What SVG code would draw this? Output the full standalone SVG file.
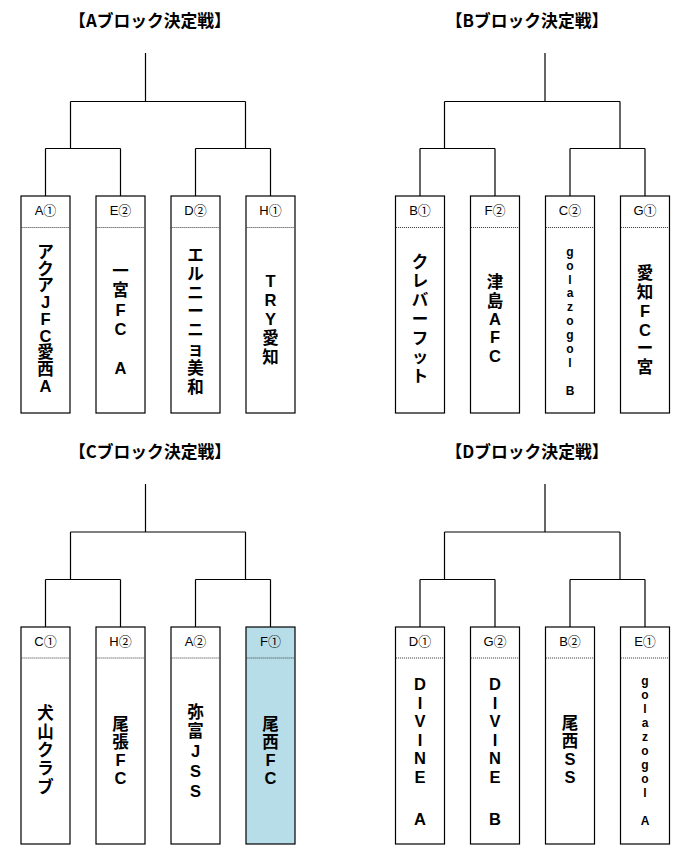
<svg xmlns="http://www.w3.org/2000/svg" width="679" height="853" viewBox="0 0 679 853">
<style>
.bg{fill:#fff}
.box{fill:#fff;stroke:#000;stroke-width:1.2}
.win{fill:#B7DEE8}
.dot{stroke:#333;stroke-width:1;stroke-dasharray:1 1;fill:none}
.ln{stroke:#000;stroke-width:1.2;fill:none}
.title{font-family:"Noto Sans CJK JP",sans-serif;font-weight:bold;font-size:16.8px;text-anchor:middle;fill:#000}
.hdr{font-family:"Liberation Sans","Noto Sans CJK JP",sans-serif;font-size:13px;text-anchor:middle;fill:#000}
.nm{font-family:"Liberation Sans","Noto Sans CJK JP",sans-serif;font-weight:bold;font-size:16.5px;text-anchor:middle;fill:#000}
.sm{font-family:"Liberation Sans","Noto Sans CJK JP",sans-serif;font-weight:bold;font-size:12px;text-anchor:middle;fill:#000}
</style>
<rect class="bg" x="0" y="0" width="679" height="853"/>

<g id="titles">
<text class="title" x="150" y="26.5">【Aブロック決定戦】</text>
<text class="title" x="527" y="26.5">【Bブロック決定戦】</text>
<text class="title" x="150" y="457.5">【Cブロック決定戦】</text>
<text class="title" x="527" y="457.5">【Dブロック決定戦】</text>
</g>

<g id="connectors">
<path class="ln" d="M145.5,53V101.5M70.5,101.5H245.5M70.5,101.5V148.5M245.5,101.5V148.5M45.5,148.5H120.5M195.5,148.5H270.5M45.5,148.5V196M120.5,148.5V196M195.5,148.5V196M270.5,148.5V196"/>
<path class="ln" d="M545,53V101.5M444.5,101.5H620M444.5,101.5V148.5M620,101.5V148.5M420,148.5H495M570,148.5H645M420,148.5V196M495,148.5V196M570,148.5V196M645,148.5V196"/>
<path class="ln" d="M145.5,484V532M70.5,532H245.5M70.5,532V579.5M245.5,532V579.5M45.5,579.5H120.5M195.5,579.5H270.5M45.5,579.5V627M120.5,579.5V627M195.5,579.5V627M270.5,579.5V627"/>
<path class="ln" d="M545,484V532M444.5,532H620M444.5,532V579.5M620,532V579.5M420,579.5H495M570,579.5H645M420,579.5V627M495,579.5V627M570,579.5V627M645,579.5V627"/>
</g>

<g id="A1">
<rect class="box" x="21" y="196" width="49" height="217"/>
<line class="dot" x1="21.6" y1="227.5" x2="69.4" y2="227.5"/>
<text class="hdr" x="45.5" y="215">A①</text>
<text class="nm"><tspan x="45.5" y="257.8">ア</tspan><tspan x="45.5" y="274.6">ク</tspan><tspan x="45.5" y="291.3">ア</tspan><tspan x="45.5" y="308.1">J</tspan><tspan x="45.5" y="324.8">F</tspan><tspan x="45.5" y="341.6">C</tspan><tspan x="45.5" y="358.3">愛</tspan><tspan x="45.5" y="375.1">西</tspan><tspan x="45.5" y="391.8">A</tspan></text>
</g>
<g id="E2">
<rect class="box" x="96" y="196" width="49" height="217"/>
<line class="dot" x1="96.6" y1="227.5" x2="144.4" y2="227.5"/>
<text class="hdr" x="120.5" y="215">E②</text>
<text class="nm"><tspan x="120.5" y="276.8">一</tspan><tspan x="120.5" y="296.3">宮</tspan><tspan x="120.5" y="315.8">F</tspan><tspan x="120.5" y="335.3">C</tspan><tspan x="120.5" y="374.3">A</tspan></text>
</g>
<g id="D2">
<rect class="box" x="171" y="196" width="49" height="217"/>
<line class="dot" x1="171.6" y1="227.5" x2="219.4" y2="227.5"/>
<text class="hdr" x="195.5" y="215">D②</text>
<text class="nm"><tspan x="195.5" y="260.8">エ</tspan><tspan x="195.5" y="279.7">ル</tspan><tspan x="195.5" y="298.5">ニ</tspan><tspan x="195.5" y="317.4">ー</tspan><tspan x="195.5" y="336.2">ニ</tspan><tspan x="195.5" y="355.1">ョ</tspan><tspan x="195.5" y="374">美</tspan><tspan x="195.5" y="392.8">和</tspan></text>
</g>
<g id="H1">
<rect class="box" x="246" y="196" width="49" height="217"/>
<line class="dot" x1="246.6" y1="227.5" x2="294.4" y2="227.5"/>
<text class="hdr" x="270.5" y="215">H①</text>
<text class="nm"><tspan x="270.5" y="286.8">T</tspan><tspan x="270.5" y="305.8">R</tspan><tspan x="270.5" y="324.8">Y</tspan><tspan x="270.5" y="343.8">愛</tspan><tspan x="270.5" y="362.8">知</tspan></text>
</g>

<g id="B1">
<rect class="box" x="395.5" y="196" width="49" height="217"/>
<line class="dot" x1="396.1" y1="227.5" x2="443.9" y2="227.5"/>
<text class="hdr" x="420" y="215">B①</text>
<text class="nm"><tspan x="420" y="268.1">ク</tspan><tspan x="420" y="287">レ</tspan><tspan x="420" y="305.9">バ</tspan><tspan x="420" y="324.8">ー</tspan><tspan x="420" y="343.7">フ</tspan><tspan x="420" y="362.6">ッ</tspan><tspan x="420" y="381.5">ト</tspan></text>
</g>
<g id="F2">
<rect class="box" x="470.5" y="196" width="49" height="217"/>
<line class="dot" x1="471.1" y1="227.5" x2="518.9" y2="227.5"/>
<text class="hdr" x="495" y="215">F②</text>
<text class="nm"><tspan x="495" y="288.1">津</tspan><tspan x="495" y="306.5">島</tspan><tspan x="495" y="324.8">A</tspan><tspan x="495" y="343.2">F</tspan><tspan x="495" y="361.5">C</tspan></text>
</g>
<g id="C2">
<rect class="box" x="545.5" y="196" width="49" height="217"/>
<line class="dot" x1="546.1" y1="227.5" x2="593.9" y2="227.5"/>
<text class="hdr" x="570" y="215">C②</text>
<text class="sm"><tspan x="570" y="255.7">g</tspan><tspan x="570" y="269.6">o</tspan><tspan x="570" y="283.5">l</tspan><tspan x="570" y="297.4">a</tspan><tspan x="570" y="311.3">z</tspan><tspan x="570" y="325.2">o</tspan><tspan x="570" y="339.1">g</tspan><tspan x="570" y="353">o</tspan><tspan x="570" y="366.9">l</tspan><tspan x="570" y="394.7">B</tspan></text>
</g>
<g id="G1">
<rect class="box" x="620.5" y="196" width="49" height="217"/>
<line class="dot" x1="621.1" y1="227.5" x2="668.9" y2="227.5"/>
<text class="hdr" x="645" y="215">G①</text>
<text class="nm"><tspan x="645" y="279.1">愛</tspan><tspan x="645" y="297.9">知</tspan><tspan x="645" y="316.7">F</tspan><tspan x="645" y="335.5">C</tspan><tspan x="645" y="354.3">ー</tspan><tspan x="645" y="373.1">宮</tspan></text>
</g>

<g id="C1">
<rect class="box" x="21" y="627" width="49" height="217"/>
<line class="dot" x1="21.6" y1="658" x2="69.4" y2="658"/>
<text class="hdr" x="45.5" y="646">C①</text>
<text class="nm"><tspan x="45.5" y="719.1">犬</tspan><tspan x="45.5" y="737.5">山</tspan><tspan x="45.5" y="755.8">ク</tspan><tspan x="45.5" y="774.2">ラ</tspan><tspan x="45.5" y="792.5">ブ</tspan></text>
</g>
<g id="H2">
<rect class="box" x="96" y="627" width="49" height="217"/>
<line class="dot" x1="96.6" y1="658" x2="144.4" y2="658"/>
<text class="hdr" x="120.5" y="646">H②</text>
<text class="nm"><tspan x="120.5" y="729.8">尾</tspan><tspan x="120.5" y="747.9">張</tspan><tspan x="120.5" y="766">F</tspan><tspan x="120.5" y="784.1">C</tspan></text>
</g>
<g id="A2">
<rect class="box" x="171" y="627" width="49" height="217"/>
<line class="dot" x1="171.6" y1="658" x2="219.4" y2="658"/>
<text class="hdr" x="195.5" y="646">A②</text>
<text class="nm"><tspan x="195.5" y="717.5">弥</tspan><tspan x="195.5" y="737.3">富</tspan><tspan x="195.5" y="757">J</tspan><tspan x="195.5" y="776.8">S</tspan><tspan x="195.5" y="796.5">S</tspan></text>
</g>
<g id="F1">
<rect class="box win" x="246" y="627" width="49" height="217"/>
<line class="dot" x1="246.6" y1="658" x2="294.4" y2="658"/>
<text class="hdr" x="270.5" y="646">F①</text>
<text class="nm"><tspan x="270.5" y="729.8">尾</tspan><tspan x="270.5" y="747.9">西</tspan><tspan x="270.5" y="766">F</tspan><tspan x="270.5" y="784.1">C</tspan></text>
</g>

<g id="D1">
<rect class="box" x="395.5" y="627" width="49" height="217"/>
<line class="dot" x1="396.1" y1="658" x2="443.9" y2="658"/>
<text class="hdr" x="420" y="646">D①</text>
<text class="nm"><tspan x="420" y="689.8">D</tspan><tspan x="420" y="708.5">I</tspan><tspan x="420" y="727.1">V</tspan><tspan x="420" y="745.8">I</tspan><tspan x="420" y="764.4">N</tspan><tspan x="420" y="783.1">E</tspan><tspan x="420" y="824.8">A</tspan></text>
</g>
<g id="G2">
<rect class="box" x="470.5" y="627" width="49" height="217"/>
<line class="dot" x1="471.1" y1="658" x2="518.9" y2="658"/>
<text class="hdr" x="495" y="646">G②</text>
<text class="nm"><tspan x="495" y="689.8">D</tspan><tspan x="495" y="708.5">I</tspan><tspan x="495" y="727.1">V</tspan><tspan x="495" y="745.8">I</tspan><tspan x="495" y="764.4">N</tspan><tspan x="495" y="783.1">E</tspan><tspan x="495" y="824.8">B</tspan></text>
</g>
<g id="B2">
<rect class="box" x="545.5" y="627" width="49" height="217"/>
<line class="dot" x1="546.1" y1="658" x2="593.9" y2="658"/>
<text class="hdr" x="570" y="646">B②</text>
<text class="nm"><tspan x="570" y="729.1">尾</tspan><tspan x="570" y="747.1">西</tspan><tspan x="570" y="765.1">S</tspan><tspan x="570" y="783.1">S</tspan></text>
</g>
<g id="E1">
<rect class="box" x="620.5" y="627" width="49" height="217"/>
<line class="dot" x1="621.1" y1="658" x2="668.9" y2="658"/>
<text class="hdr" x="645" y="646">E①</text>
<text class="sm"><tspan x="645" y="684.5">g</tspan><tspan x="645" y="698.5">o</tspan><tspan x="645" y="712.5">l</tspan><tspan x="645" y="726.5">a</tspan><tspan x="645" y="740.5">z</tspan><tspan x="645" y="754.5">o</tspan><tspan x="645" y="768.5">g</tspan><tspan x="645" y="782.5">o</tspan><tspan x="645" y="796.5">l</tspan><tspan x="645" y="824.5">A</tspan></text>
</g>
</svg>
